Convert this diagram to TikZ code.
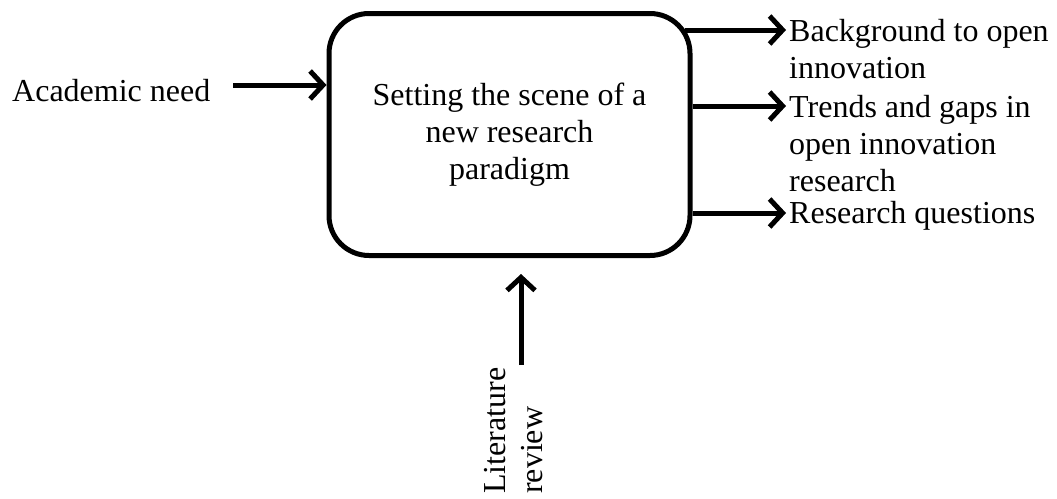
\documentclass[tikz,border=0pt]{standalone}
\usepackage{fontspec}
\setmainfont{Liberation Serif}
\usetikzlibrary{arrows.meta,calc}
\begin{document}
\begin{tikzpicture}[x=1pt,y=-1pt,
  txt/.style={font=\fontsize{32}{37}\selectfont},
  lbl/.style={txt, inner sep=0pt, align=left},
  flow/.style={line width=5pt, -{Straight Barb[length=13pt,width=28pt]}},
  procbox/.style={txt, draw, line width=5pt, rounded corners=40pt,
    minimum width=361pt, minimum height=242pt, align=center}]
\useasboundingbox (0,0) rectangle (1057,498);

% central process
\node[procbox] (box) at (509.5,134.5) {Setting the scene of a\\new research\\paradigm};

% input on the left
\node[lbl, anchor=base west] (need) at (12,101) {Academic need};
\coordinate (needtail) at (233,85);
\draw[flow] (needtail) -- (box.west |- needtail);

% outputs on the right
\coordinate (o1) at (786,30);
\coordinate (o2) at (786,106);
\coordinate (o3) at (786,213);
\node[lbl, anchor=north west] (bg) at (789,15) {\strut Background to open\\innovation};
\node[lbl, anchor=north west] (tg) at (789,91) {\strut Trends and gaps in\\open innovation\\research};
\node[lbl, anchor=north west] (rq) at (789,197) {\strut Research questions};
\draw[flow] ($(box.east |- o1)+(-8,0)$) -- (o1);
\draw[flow] (box.east |- o2) -- (o2);
\draw[flow] (box.east |- o3) -- (o3);

% mechanism from below
\node[lbl, rotate=90, anchor=north west] (lr) at (479,494) {\strut Literature\\review};
\coordinate (lrtail) at (521,365);
\draw[flow] (lrtail) -- ($(box.south -| lrtail)+(0,16)$);
\end{tikzpicture}
\end{document}
